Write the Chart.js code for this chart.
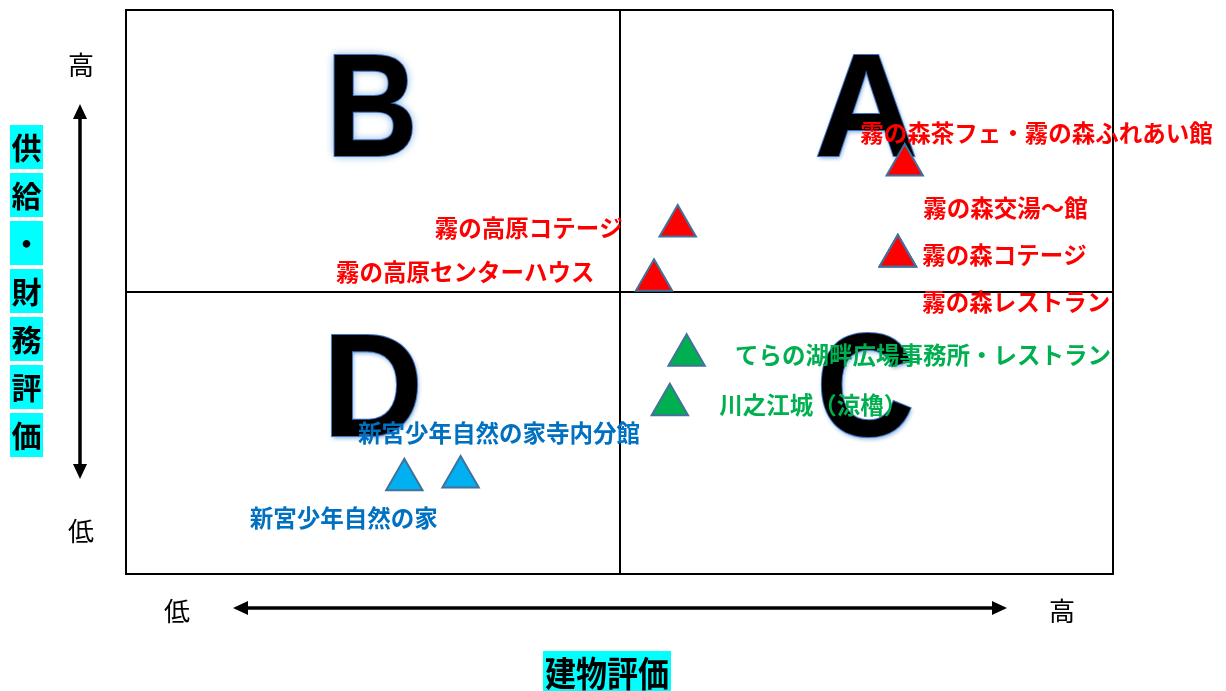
<!DOCTYPE html>
<html>
<head>
<meta charset="utf-8">
<script src="https://cdn.jsdelivr.net/npm/chart.js@4"></script>
<style>
  html, body { margin: 0; padding: 0; background: #fff; }
  #wrap { width: 1226px; height: 691px; position: relative; }
</style>
</head>
<body>
<div id="wrap"><canvas id="c" width="1226" height="691"></canvas></div>
<script>
// ---- data ----
const facilities = [
  '霧の森茶フェ・霧の森ふれあい館',
  '霧の森交湯～館',
  '霧の森コテージ',
  '霧の森レストラン',
  '霧の高原コテージ',
  '霧の高原センターハウス',
  'てらの湖畔広場事務所・レストラン',
  '川之江城（涼櫓）',
  '新宮少年自然の家寺内分館',
  '新宮少年自然の家'
];
const buildingScore  = [78.9, 78.2, 78.2, 78.2, 55.9, 53.5, 56.8, 55.1, 33.9, 28.2];
const financeScore   = [72.5, 56.4, 56.4, 56.4, 61.7, 52.1, 38.8, 30.0, 17.2, 16.7];
const groupOf        = ['red', 'red', 'red', 'red', 'red', 'red', 'green', 'green', 'blue', 'blue'];
const quadrantLetters = ['A', 'B', 'C', 'D'];
const quadrantX = [75, 25, 75, 25];
const quadrantY = [74.2, 74.2, 24.4, 24.4];
const yTitle = '供給・財務評価';
const xTitle = '建物評価';
const lowLabel = '低';
const highLabel = '高';

// ---- styles / layout (not data) ----
const fillColors  = { red: '#FF0000', green: '#00B050', blue: '#00B0F0' };
const textColors  = { red: '#FF0000', green: '#00B050', blue: '#0070C0' };
// label offsets in px relative to the point (left edge, vertical centre)
const labelOffsets = [
  [-44.5, -32], [25.5, -48], [24.5, -1], [24.5, 46],
  [-243, 2], [-318, -8], [48.5, 0], [49.5, 0], [-102.5, -44], [-154.5, 38]
];
const letterOffsetX = [0, -1, -1, 0];
const letterScaleX = [0.98, 0.87, 0.93, 0.95];

const datasets = ['red', 'green', 'blue'].map(g => {
  const pts = [];
  facilities.forEach((f, i) => { if (groupOf[i] === g) pts.push({ x: buildingScore[i], y: financeScore[i] }); });
  return {
    label: g,
    data: pts,
    pointStyle: 'triangle',
    pointRadius: 21,
    pointHoverRadius: 21,
    backgroundColor: fillColors[g],
    borderColor: '#41719C',
    borderWidth: 2
  };
});

const jp = '"Noto Sans CJK JP", "Noto Sans", sans-serif';

const lettersPlugin = {
  id: 'letters',
  beforeDatasetsDraw(chart) {
    const ctx = chart.ctx, xs = chart.scales.x, ys = chart.scales.y;
    quadrantLetters.forEach((L, i) => {
      const px = xs.getPixelForValue(quadrantX[i]) + letterOffsetX[i];
      const py = ys.getPixelForValue(quadrantY[i]);
      ctx.save();
      ctx.translate(px, py);
      ctx.scale(letterScaleX[i], 1);
      ctx.font = 'bold 146px "Liberation Sans", Arial, sans-serif';
      ctx.textAlign = 'center';
      ctx.textBaseline = 'alphabetic';
      ctx.save();
      ctx.shadowColor = 'rgba(91,155,213,0.85)';
      ctx.shadowBlur = (L === 'B') ? 9 : 4;
      ctx.shadowOffsetX = (L === 'B') ? 0 : 1;
      ctx.shadowOffsetY = (L === 'B') ? 0 : 2;
      ctx.fillStyle = '#000';
      ctx.fillText(L, 0, 0);
      ctx.restore();
      ctx.lineWidth = 2;
      ctx.strokeStyle = '#4472C4';
      ctx.strokeText(L, 0, 0);
      ctx.fillStyle = '#000';
      ctx.fillText(L, 0, 0);
      ctx.restore();
    });
  }
};

const labelsPlugin = {
  id: 'labels',
  afterDatasetsDraw(chart) {
    const ctx = chart.ctx, xs = chart.scales.x, ys = chart.scales.y;
    ctx.save();
    ctx.font = 'bold 23.5px ' + jp;
    ctx.textAlign = 'left';
    ctx.textBaseline = 'middle';
    facilities.forEach((f, i) => {
      const px = xs.getPixelForValue(buildingScore[i]) + labelOffsets[i][0];
      const py = ys.getPixelForValue(financeScore[i]) + labelOffsets[i][1];
      ctx.fillStyle = textColors[groupOf[i]];
      ctx.fillText(f, px, py);
    });
    ctx.restore();
  }
};

function arrowHead(ctx, x, y, dir) {
  const L = 15, W = 7;
  ctx.beginPath();
  if (dir === 'up')    { ctx.moveTo(x, y); ctx.lineTo(x - W, y + L); ctx.lineTo(x + W, y + L); }
  if (dir === 'down')  { ctx.moveTo(x, y); ctx.lineTo(x - W, y - L); ctx.lineTo(x + W, y - L); }
  if (dir === 'left')  { ctx.moveTo(x, y); ctx.lineTo(x + L, y - W); ctx.lineTo(x + L, y + W); }
  if (dir === 'right') { ctx.moveTo(x, y); ctx.lineTo(x - L, y - W); ctx.lineTo(x - L, y + W); }
  ctx.closePath();
  ctx.fill();
}

const axesDecor = {
  id: 'axesDecor',
  afterDraw(chart) {
    const ctx = chart.ctx;
    ctx.save();
    ctx.fillStyle = '#000';
    ctx.strokeStyle = '#000';
    ctx.lineWidth = 3.5;
    ctx.beginPath(); ctx.moveTo(80, 115); ctx.lineTo(80, 468); ctx.stroke();
    arrowHead(ctx, 80, 104, 'up');
    arrowHead(ctx, 80, 479, 'down');
    ctx.beginPath(); ctx.moveTo(244, 608); ctx.lineTo(996, 608); ctx.stroke();
    arrowHead(ctx, 233, 608, 'left');
    arrowHead(ctx, 1007, 608, 'right');
    ctx.font = '26px ' + jp;
    ctx.textAlign = 'center';
    ctx.textBaseline = 'middle';
    ctx.fillText(highLabel, 81, 65);
    ctx.fillText(lowLabel, 81, 531);
    ctx.fillText(lowLabel, 177, 611);
    ctx.fillText(highLabel, 1062, 611);
    const chars = Array.from(yTitle);
    ctx.font = 'bold 30px ' + jp;
    chars.forEach((ch, i) => {
      const top = 125 + i * 48;
      ctx.fillStyle = '#00FFFF';
      ctx.fillRect(10, top, 33, 44);
      ctx.fillStyle = '#000';
      ctx.fillText(ch, 26.5, top + 23);
    });
    ctx.fillStyle = '#00FFFF';
    ctx.fillRect(543, 651, 128, 40);
    ctx.fillStyle = '#000';
    ctx.save();
    ctx.translate(607, 673);
    ctx.scale(1, 1.15);
    ctx.font = 'bold 31px ' + jp;
    ctx.fillText(xTitle, 0, 0);
    ctx.restore();
    ctx.restore();
  }
};

const gridOpts = { color: '#000', lineWidth: 2, drawTicks: false };
new Chart(document.getElementById('c'), {
  type: 'scatter',
  data: { datasets },
  options: {
    responsive: false,
    animation: false,
    devicePixelRatio: 1,
    layout: { autoPadding: false, padding: { left: 126, top: 10, right: 113, bottom: 117 } },
    plugins: { legend: { display: false }, tooltip: { enabled: false } },
    scales: {
      x: { type: 'linear', min: 0, max: 100, ticks: { display: false, stepSize: 50 }, grid: gridOpts, border: { display: true, color: '#000', width: 2 } },
      y: { type: 'linear', min: 0, max: 100, ticks: { display: false, stepSize: 50 }, grid: gridOpts, border: { display: true, color: '#000', width: 2 } }
    }
  },
  plugins: [lettersPlugin, labelsPlugin, axesDecor]
});
</script>
</body>
</html>
